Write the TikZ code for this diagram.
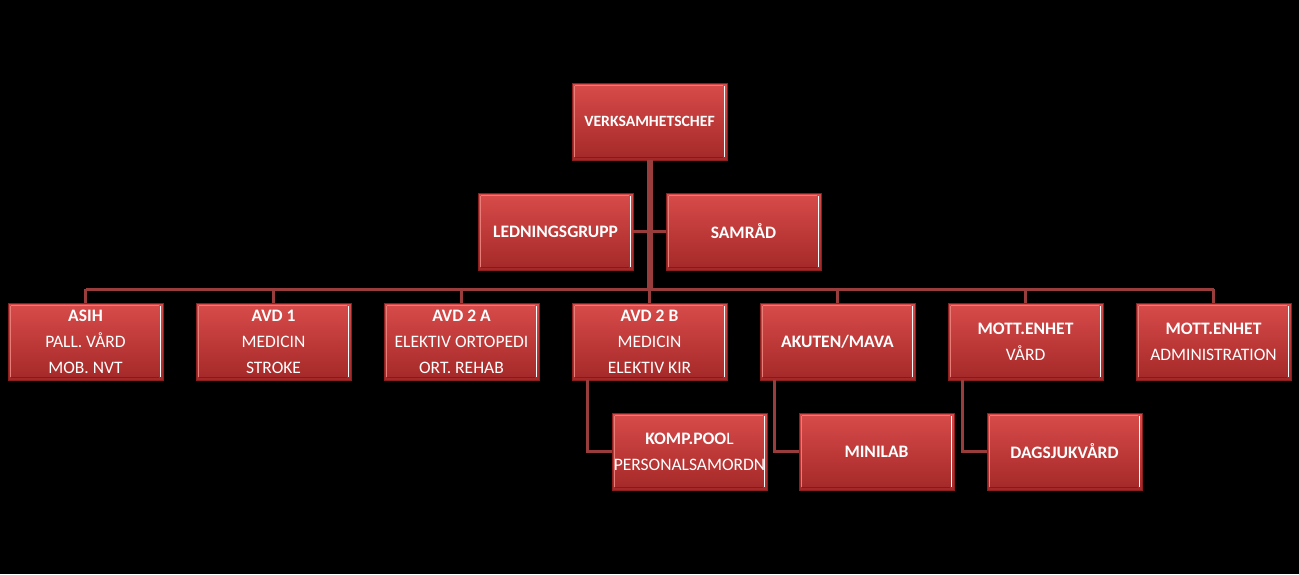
\documentclass[tikz,border=0pt]{standalone}
\usepackage{fontspec}
\setmainfont{Carlito}
\begin{document}
\begin{tikzpicture}[x=1pt,y=-1pt,
  orgbox/.style={rectangle, minimum width=155pt, minimum height=77pt, inner sep=0pt,
    top color=boxtop, bottom color=boxbot, draw=boxedge, line width=0.6pt,
    text=white, align=center, font={\fontsize{17.5}{26}\selectfont},
    path picture={
      \draw[white, line width=1.6pt] ([xshift=-2.5pt,yshift=-3pt]path picture bounding box.north east) -- ([xshift=-2.5pt,yshift=3pt]path picture bounding box.south east);
      \draw[boxlight, line width=1.4pt] ([xshift=3pt,yshift=-2.5pt]path picture bounding box.north west) -- ([xshift=-4pt,yshift=-2.5pt]path picture bounding box.north east);
      \draw[boxlight, line width=1.4pt] ([xshift=2.5pt,yshift=-3pt]path picture bounding box.north west) -- ([xshift=2.5pt,yshift=3pt]path picture bounding box.south west);
      \draw[boxdark, line width=1.4pt] ([xshift=3pt,yshift=2.5pt]path picture bounding box.south west) -- ([xshift=-4pt,yshift=2.5pt]path picture bounding box.south east);
    }},
  link/.style={draw=linkcol, line width=3pt},
  trunk/.style={draw=linkcol, line width=6pt}
]
\definecolor{boxtop}{RGB}{216,76,74}
\definecolor{boxbot}{RGB}{164,40,40}
\definecolor{boxedge}{RGB}{140,30,30}
\definecolor{boxlight}{RGB}{234,124,120}
\definecolor{boxdark}{RGB}{130,28,28}
\definecolor{linkcol}{RGB}{152,60,60}
\useasboundingbox[fill=black] (0,0) rectangle (1299,574);

\node[orgbox, font={\fontsize{15.7}{26}\selectfont}] (chef) at (649.5,121.5) {\textbf{VERKSAMHETSCHEF}};
\node[orgbox] (led) at (555.5,231.5) {\textbf{LEDNINGSGRUPP}};
\node[orgbox] (sam) at (743.5,231.5) {\textbf{SAMRÅD}};

\node[orgbox] (asih) at (85.5,341.5) {\textbf{ASIH}\\PALL. VÅRD\\MOB. NVT};
\node[orgbox] (avd1) at (273.5,341.5) {\textbf{AVD 1}\\MEDICIN\\STROKE};
\node[orgbox] (avd2a) at (461.5,341.5) {\textbf{AVD 2 A}\\ELEKTIV ORTOPEDI\\ORT. REHAB};
\node[orgbox] (avd2b) at (649.5,341.5) {\textbf{AVD 2 B}\\MEDICIN\\ELEKTIV KIR};
\node[orgbox] (akut) at (837.5,341.5) {\textbf{AKUTEN/MAVA}};
\node[orgbox] (mottv) at (1025.5,341.5) {\textbf{MOTT.ENHET}\\VÅRD};
\node[orgbox] (motta) at (1213.5,341.5) {\textbf{MOTT.ENHET}\\ADMINISTRATION};

\node[orgbox] (komp) at (689.5,451.5) {\textbf{KOMP.POO}L\\PERSONALSAMORDN};
\node[orgbox] (mini) at (876.5,451.5) {\textbf{MINILAB}};
\node[orgbox] (dags) at (1064.5,451.5) {\textbf{DAGSJUKVÅRD}};

\coordinate (busL) at (85.5,289);
\coordinate (busR) at (1213.5,289);

\draw[trunk] (chef.south) -- (chef.south |- busL);
\draw[link] (led.east) -- (sam.west);
\draw[link] (busL) -- (busR);
\foreach \n in {asih,avd1,avd2a,avd2b,akut,mottv,motta}
  \draw[link] (\n.north) -- (\n.north |- busL);
\draw[link] ([xshift=16pt]avd2b.south west) |- (komp.west);
\draw[link] ([xshift=15pt]akut.south west) |- (mini.west);
\draw[link] ([xshift=15pt]mottv.south west) |- (dags.west);
\end{tikzpicture}
\end{document}
